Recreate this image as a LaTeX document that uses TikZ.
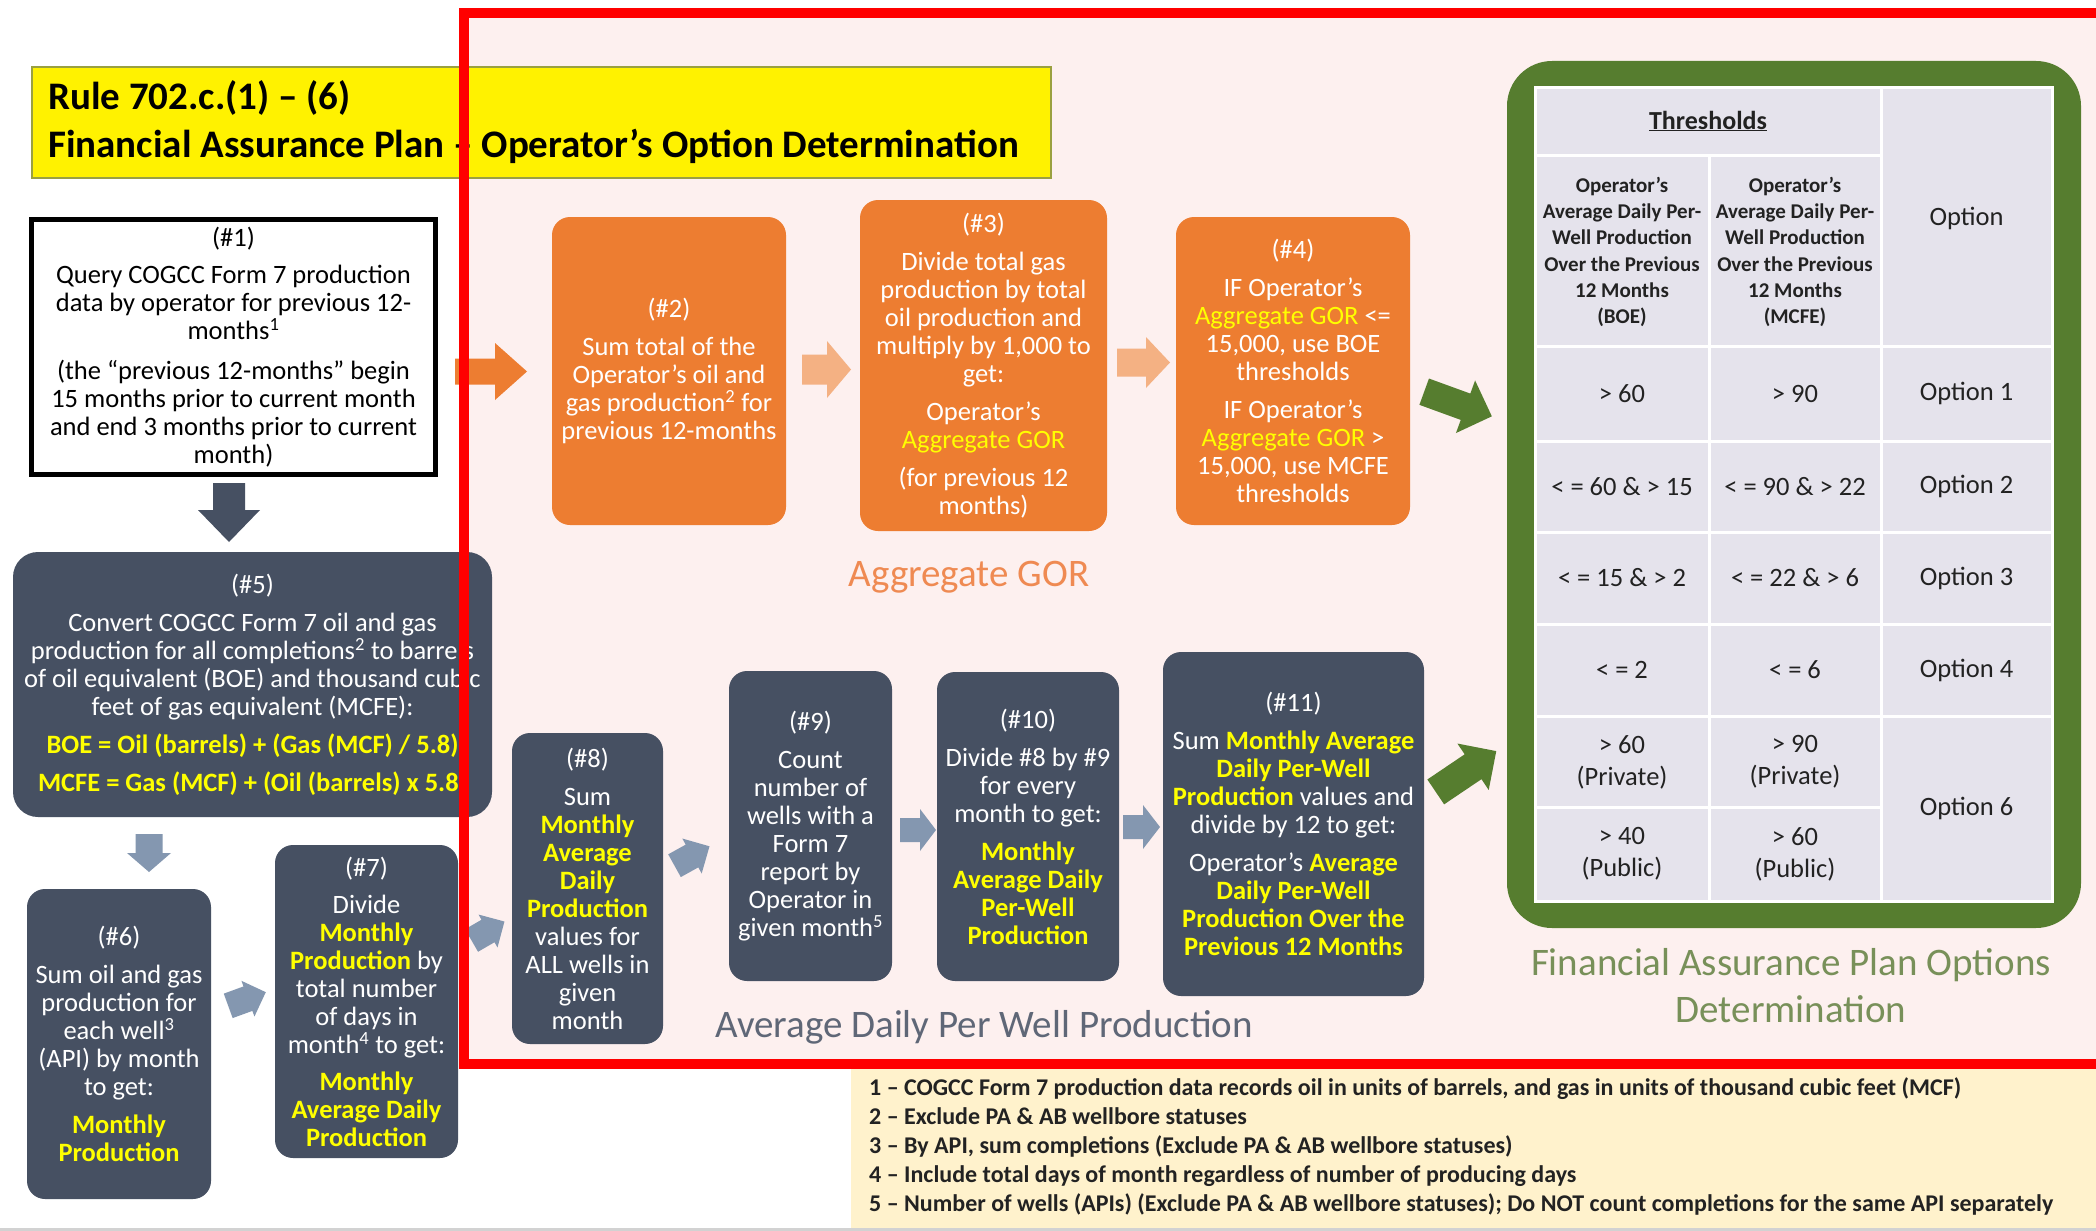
\documentclass[tikz,border=0pt]{standalone}
\usepackage{fontspec}
\setmainfont{Carlito}
\definecolor{orangeC}{HTML}{ED7D31}
\definecolor{lightOrange}{HTML}{F4B183}
\definecolor{slateC}{HTML}{465062}
\definecolor{lightSlate}{HTML}{8497B0}
\definecolor{greenC}{HTML}{567D2F}
\definecolor{cellC}{HTML}{E5E3EC}
\definecolor{pinkBg}{HTML}{FDF0EF}
\definecolor{yellowT}{HTML}{FFFF00}
\definecolor{noteBg}{HTML}{FFF2CC}
\definecolor{redC}{HTML}{FF0000}
\definecolor{labOrange}{HTML}{EF8A52}
\definecolor{labSlate}{HTML}{5F6777}
\definecolor{labGreen}{HTML}{789059}
\definecolor{titleBorder}{HTML}{9AA040}
\definecolor{darkText}{HTML}{222222}
\newcommand\yb[1]{\textcolor{yellowT}{\bfseries #1}}
\newcommand\yo[1]{\textcolor{yellowT}{#1}}
\newcommand\barrow[9]{%
  \begin{scope}[shift={(#2,#3)}, rotate=#4]
    \fill[#9] ({-#5/2},{-#7/2}) -- ({#5/2-#8},{-#7/2}) -- ({#5/2-#8},{-#6/2}) -- ({#5/2},0)
      -- ({#5/2-#8},{#6/2}) -- ({#5/2-#8},{#7/2}) -- ({-#5/2},{#7/2}) -- cycle;
    \coordinate (#1) at (0,0);
  \end{scope}}
\begin{document}
\begin{tikzpicture}[x=1pt,y=-1pt,
  boxfont/.style={font=\fontsize{26.5}{28}\selectfont},
  obox/.style={fill=orangeC, rounded corners=18pt, text=white, align=center, inner sep=0pt, boxfont},
  sbox/.style={fill=slateC, rounded corners=18pt, text=white, align=center, inner sep=0pt, boxfont},
  label/.style={font=\fontsize{39}{47}\selectfont, align=center, inner sep=0pt},
  hdr/.style={font=\fontsize{21}{26.2}\selectfont\bfseries, align=center, text=darkText, inner sep=0pt},
  val/.style={font=\fontsize{26.5}{32}\selectfont, align=center, text=darkText, inner sep=0pt},
  grid/.style={white, line width=3pt}
]
\useasboundingbox (0,0) rectangle (2096,1231);
\fill[white] (0,0) rectangle (2096,1231);
\fill[pinkBg] (464,13) rectangle (2096,1064);
\fill[noteBg] (851,1069) rectangle (2096,1231);
\draw[gray!35, line width=3pt] (0,1229) -- (2096,1229);

% title
\node[draw=titleBorder, line width=1.2pt, fill=yellow, minimum width=1019pt, minimum height=111pt, inner sep=0pt] (title) at (541.5,122.5) {};
\node[anchor=west, align=left, font=\fontsize{39}{48}\selectfont\bfseries, inner sep=0pt] (titletext) at (48,122)
  {Rule 702.c.(1) – (6)\\Financial Assurance Plan – Operator’s Option Determination};

% box 1
\node[draw=black, line width=5pt, fill=white, minimum width=404pt, minimum height=255pt, align=center, inner sep=0pt, boxfont] (n1) at (233.5,347)
  {(\#1)\\[9pt]Query COGCC Form 7 production\\data by operator for previous 12-\\months\textsuperscript{1}\\[12pt](the “previous 12-months” begin\\15 months prior to current month\\and end 3 months prior to current\\month)};

% orange boxes
\node[obox, minimum width=234pt, minimum height=308pt] (n2) at (669,371)
  {(\#2)\\[10pt]Sum total of the\\Operator’s oil and\\gas production\textsuperscript{2} for\\previous 12-months};
\node[obox, minimum width=247pt, minimum height=331pt] (n3) at (983.5,365.5)
  {(\#3)\\[10pt]Divide total gas\\production by total\\oil production and\\multiply by 1,000 to\\get:\\[10pt]Operator’s\\\yo{Aggregate GOR}\\[10pt](for previous 12\\months)};
\node[obox, minimum width=234pt, minimum height=308pt] (n4) at (1293,371)
  {(\#4)\\[10pt]IF Operator’s\\\yo{Aggregate GOR} <=\\15,000, use BOE\\thresholds\\[10pt]IF Operator’s\\\yo{Aggregate GOR} >\\15,000, use MCFE\\thresholds};

% slate boxes
\node[sbox, rounded corners=25pt, minimum width=479pt, minimum height=265pt] (n5) at (252.5,684.5)
  {(\#5)\\[10pt]Convert COGCC Form 7 oil and gas\\production for all completions\textsuperscript{2} to barrels\\of oil equivalent (BOE) and thousand cubic\\feet of gas equivalent (MCFE):\\[10pt]\yb{BOE = Oil (barrels) + (Gas (MCF) / 5.8)}\\[10pt]\yb{MCFE = Gas (MCF) + (Oil (barrels) x 5.8)}};
\node[sbox, minimum width=184pt, minimum height=310pt] (n6) at (119,1044)
  {(\#6)\\[10pt]Sum oil and gas\\production for\\each well\textsuperscript{3}\\(API) by month\\to get:\\[10pt]\yb{Monthly}\\\yb{Production}};
\node[sbox, minimum width=183pt, minimum height=313pt] (n7) at (366.5,1001.5)
  {(\#7)\\[9pt]Divide\\\yb{Monthly}\\\yb{Production} by\\total number\\of days in\\month\textsuperscript{4} to get:\\[9pt]\yb{Monthly}\\\yb{Average Daily}\\\yb{Production}};
\node[sbox, minimum width=151pt, minimum height=311pt] (n8) at (587.5,888.5)
  {(\#8)\\[10pt]Sum\\\yb{Monthly}\\\yb{Average}\\\yb{Daily}\\\yb{Production}\\values for\\ALL wells in\\given\\month};
\node[sbox, minimum width=163pt, minimum height=310pt] (n9) at (810.5,826)
  {(\#9)\\[10pt]Count\\number of\\wells with a\\Form 7\\report by\\Operator in\\given month\textsuperscript{5}};
\node[sbox, minimum width=182pt, minimum height=309pt] (n10) at (1028,826.5)
  {(\#10)\\[10pt]Divide \#8 by \#9\\for every\\month to get:\\[10pt]\yb{Monthly}\\\yb{Average Daily}\\\yb{Per-Well}\\\yb{Production}};
\node[sbox, minimum width=261pt, minimum height=344pt] (n11) at (1293.5,824)
  {(\#11)\\[10pt]Sum \yb{Monthly Average}\\\yb{Daily Per-Well}\\\yb{Production} values and\\divide by 12 to get:\\[10pt]Operator’s \yb{Average}\\\yb{Daily Per-Well}\\\yb{Production Over the}\\\yb{Previous 12 Months}};

% labels
\node[label, text=labOrange] (lgor) at (969,577) {Aggregate GOR};
\node[label, text=labSlate] (ladp) at (984,1027) {Average Daily Per Well Production};
\node[label, text=labGreen] (lfap) at (1791,985.5) {Financial Assurance Plan Options\\Determination};

% green frame and table
\node[fill=greenC, rounded corners=45pt, minimum width=574pt, minimum height=867pt, inner sep=0pt] (frame) at (1794,494.5) {};
\node[fill=cellC, minimum width=517pt, minimum height=814pt, inner sep=0pt] (table) at (1793.5,494) {};
\draw[grid] (1535,87) rectangle (2052,901);
\draw[grid] (1709,155) -- (1709,901);
\draw[grid] (1881,87) -- (1881,901);
\draw[grid] (1535,155) -- (1881,155);
\foreach \yy in {346,441,532,624,716} \draw[grid] (1535,\yy) -- (2052,\yy);
\draw[grid] (1535,807) -- (1881,807);

\node[font=\fontsize{26}{28}\selectfont\bfseries, text=darkText, inner sep=0pt] (tth) at (1708,121) {\underline{Thresholds}};
\node[hdr] (th1) at (1622,252) {Operator’s\\Average Daily Per-\\Well Production\\Over the Previous\\12 Months\\(BOE)};
\node[hdr] (th2) at (1795,252) {Operator’s\\Average Daily Per-\\Well Production\\Over the Previous\\12 Months\\(MCFE)};
\node[val] (th3) at (1966.5,218) {Option};
\node[val] (r1a) at (1622,393.5) {> 60};
\node[val] (r1b) at (1795,393.5) {> 90};
\node[val] (r1c) at (1966.5,393.5) {Option 1};
\node[val] (r2a) at (1622,486.5) {< = 60 \& > 15};
\node[val] (r2b) at (1795,486.5) {< = 90 \& > 22};
\node[val] (r2c) at (1966.5,486.5) {Option 2};
\node[val] (r3a) at (1622,578) {< = 15 \& > 2};
\node[val] (r3b) at (1795,578) {< = 22 \& > 6};
\node[val] (r3c) at (1966.5,578) {Option 3};
\node[val] (r4a) at (1622,670) {< = 2};
\node[val] (r4b) at (1795,670) {< = 6};
\node[val] (r4c) at (1966.5,670) {Option 4};
\node[val] (r5a) at (1622,762) {> 60\\(Private)};
\node[val] (r5b) at (1795,762) {> 90\\(Private)};
\node[val] (r6a) at (1622,854) {> 40\\(Public)};
\node[val] (r6b) at (1795,854) {> 60\\(Public)};
\node[val] (r56c) at (1966.5,808.5) {Option 6};

% block arrows
\barrow{a1}{229}{512.5}{-90}{59}{62}{32}{32}{slateC}
\barrow{a2}{491}{371.5}{0}{72}{57}{26}{32}{orangeC}
\barrow{a3}{826.5}{369.5}{0}{49}{57}{30}{24}{lightOrange}
\barrow{a4}{1143.5}{362.5}{0}{53}{51}{28}{24}{lightOrange}
\barrow{a5}{1458}{404}{-20}{72}{56}{28}{28}{greenC}
\barrow{a6}{149}{853}{-90}{38}{44}{27}{19}{lightSlate}
\barrow{a7}{247}{999}{20}{40}{38}{26}{19}{lightSlate}
\barrow{a8}{488}{931}{30}{38}{38}{26}{19}{lightSlate}
\barrow{a9}{692}{856}{29}{40}{40}{26}{20}{lightSlate}
\barrow{a10}{918}{830}{0}{36}{42}{24}{16}{lightSlate}
\barrow{a11}{1141.5}{827}{0}{37}{44}{24}{17}{lightSlate}
\barrow{a12}{1466}{771.5}{34}{73}{56}{30}{28}{greenC}

% footnotes
\node[anchor=west, align=left, inner sep=0pt, font=\fontsize{24}{29}\selectfont\bfseries, text=darkText] (notes) at (869,1146)
  {1 – COGCC Form 7 production data records oil in units of barrels, and gas in units of thousand cubic feet (MCF)\\
   2 – Exclude PA \& AB wellbore statuses\\
   3 – By API, sum completions (Exclude PA \& AB wellbore statuses)\\
   4 – Include total days of month regardless of number of producing days\\
   5 – Number of wells (APIs) (Exclude PA \& AB wellbore statuses); Do NOT count completions for the same API separately};

% red frame on top
\draw[redC, line width=10pt] (464,13) rectangle (2130,1064);
\end{tikzpicture}
\end{document}
